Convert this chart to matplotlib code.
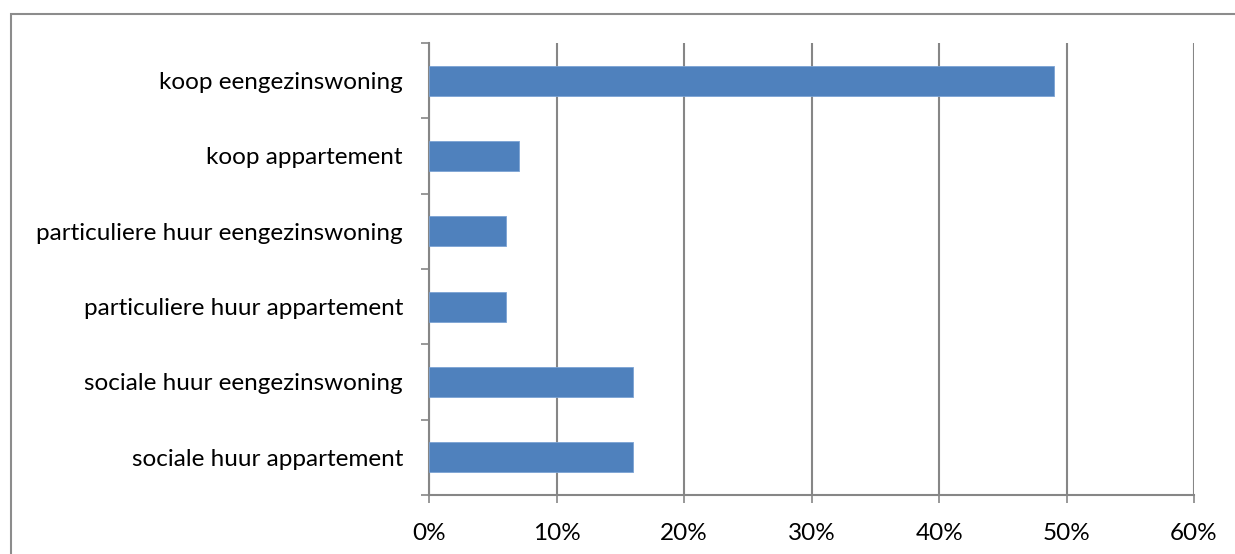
import numpy as np
import matplotlib
matplotlib.use('Agg')
import matplotlib.pyplot as plt
from matplotlib.patches import Rectangle
from matplotlib.ticker import FuncFormatter

# categories from top to bottom as shown
categories = ['koop eengezinswoning', 'koop appartement',
              'particuliere huur eengezinswoning', 'particuliere huur appartement',
              'sociale huur eengezinswoning', 'sociale huur appartement']
values = [0.49, 0.07, 0.06, 0.06, 0.16, 0.16]
xticks = [0, 0.1, 0.2, 0.3, 0.4, 0.5, 0.6]

plt.rcParams['font.family'] = ['Lato', 'DejaVu Sans']

grey = '#868686'
fig = plt.figure(figsize=(12.35, 5.54), dpi=100)
ax = fig.add_axes([429.3/1235, 59/554, (1194-429.3)/1235, 452/554])

# border around the whole chart (goes off the picture right and bottom)
fig.patches.append(Rectangle((11/1235, -0.05), 1.1, (554-14)/554 + 0.05,
                             transform=fig.transFigure, fill=False,
                             edgecolor='#8c8c8c', linewidth=1.5))

n = len(categories)
ypos = np.arange(n)[::-1]
ax.barh(ypos, values, height=0.4, color='#4F81BD', edgecolor='#7BA3D4',
        linewidth=0.6, zorder=3)

ax.set_xlim(0, 0.6)
ax.set_ylim(-0.5, n - 0.5)
ax.set_xticks(xticks)
ax.xaxis.set_major_formatter(FuncFormatter(lambda v, p: '%d%%' % round(v * 100)))
ax.grid(axis='x', color=grey, linewidth=1.5, zorder=0)

ax.set_yticks(np.arange(n + 1) - 0.5)
ax.set_yticklabels([])
ax.set_yticks(ypos, minor=True)
ax.set_yticklabels(categories, minor=True)
ax.tick_params(axis='y', which='major', length=6, width=1.2, color=grey, direction='out')
ax.tick_params(axis='y', which='minor', length=0, pad=19, labelsize=17.5)
ax.tick_params(axis='x', length=6, width=1.2, color=grey, pad=14, labelsize=17.5)

for s in ['top', 'right']:
    ax.spines[s].set_visible(False)
for s in ['left', 'bottom']:
    ax.spines[s].set_color(grey)
    ax.spines[s].set_linewidth(1.5)

fig.savefig('out.png', dpi=100)
